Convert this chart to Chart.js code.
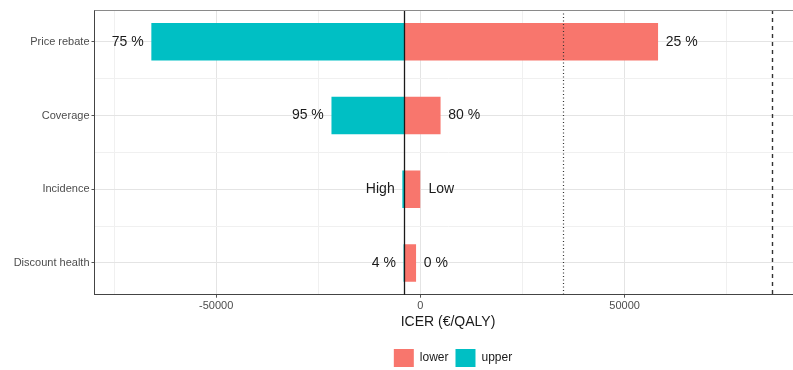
<!DOCTYPE html>
<html>
<head>
<meta charset="utf-8">
<script src="https://cdn.jsdelivr.net/npm/chart.js@4.4.1/dist/chart.umd.min.js"></script>
<style>
  html, body { margin: 0; padding: 0; background: #fff; overflow: hidden; }
  #wrap { width: 906px; height: 377px; }
</style>
</head>
<body>
<div id="wrap"><canvas id="tornado" width="906" height="377"></canvas></div>
<script>
// one-way sensitivity analysis, ICER in €/QALY
const parameters = ['Price rebate', 'Coverage', 'Incidence', 'Discount health'];
const baseIcer = -3950;
const lowerIcer = [58100, 4850, 0, -1150];
const upperIcer = [-65800, -21700, -4350, -4050];
const lowerLabels = ['25 %', '80 %', 'Low', '0 %'];
const upperLabels = ['75 %', '95 %', 'High', '4 %'];
const wtpLow = 35000;
const wtpHigh = 86000;
const xGridValues = [-75000, -50000, -25000, 0, 25000, 50000, 75000];
const xTickLabels = [-50000, 0, 50000];

const FONT = "'Liberation Sans', Arial, sans-serif";

const toBars = vals => vals.map((v, i) => ({ y: i, x: [baseIcer, v] }));
const tickVal = c => (c.tick ? c.tick.value : NaN);
// gridlines on each parameter and halfway between neighbours
const yGridValues = parameters.flatMap((p, i) => (i < parameters.length - 1 ? [i, i + 0.5] : [i]));

// reference lines: base case (solid) and the two thresholds
const refLines = {
  id: 'refLines',
  afterDatasetsDraw(chart) {
    const { ctx, chartArea: a, scales: { x } } = chart;
    const vline = (val, dash, width, color) => {
      const px = Math.round(x.getPixelForValue(val)) + 0.5;
      ctx.save();
      ctx.strokeStyle = color;
      ctx.lineWidth = width;
      ctx.setLineDash(dash);
      ctx.beginPath();
      ctx.moveTo(px, a.top);
      ctx.lineTo(px, a.bottom);
      ctx.stroke();
      ctx.restore();
    };
    vline(wtpLow, [1, 2.5], 1.2, '#333');
    vline(wtpHigh, [4, 4], 1.4, '#333');
    vline(baseIcer, [], 1.3, '#1a1a1a');
    // top edge of the panel
    ctx.save();
    ctx.strokeStyle = '#8a8a8a';
    ctx.lineWidth = 1;
    ctx.beginPath();
    ctx.moveTo(a.left, Math.round(a.top) + 0.5);
    ctx.lineTo(a.right, Math.round(a.top) + 0.5);
    ctx.stroke();
    ctx.restore();
  }
};

// value labels at the outer end of each bar
const barLabels = {
  id: 'barLabels',
  afterDraw(chart) {
    const { ctx, scales: { x, y } } = chart;
    const gap = 8;
    ctx.save();
    ctx.font = '14px ' + FONT;
    ctx.fillStyle = '#1a1a1a';
    ctx.textBaseline = 'middle';
    parameters.forEach((p, i) => {
      const py = y.getPixelForValue(i);
      const lo = lowerIcer[i], up = upperIcer[i];
      ctx.textAlign = lo >= baseIcer ? 'left' : 'right';
      ctx.fillText(lowerLabels[i], x.getPixelForValue(lo) + (lo >= baseIcer ? gap : -gap), py);
      ctx.textAlign = up >= baseIcer ? 'left' : 'right';
      ctx.fillText(upperLabels[i], x.getPixelForValue(up) + (up >= baseIcer ? gap : -gap), py);
    });
    ctx.restore();
  }
};

new Chart(document.getElementById('tornado'), {
  type: 'bar',
  data: {
    datasets: [
      { label: 'lower', data: toBars(lowerIcer), backgroundColor: '#F8766D', borderWidth: 0 },
      { label: 'upper', data: toBars(upperIcer), backgroundColor: '#00BFC4', borderWidth: 0 }
    ]
  },
  options: {
    indexAxis: 'y',
    responsive: false,
    animation: false,
    grouped: false,
    barPercentage: 1,
    categoryPercentage: 1,
    layout: { padding: { top: 10, right: 0, left: 0, bottom: 0 } },
    plugins: {
      tooltip: { enabled: false },
      legend: {
        position: 'bottom',
        labels: {
          boxWidth: 20,
          boxHeight: 18,
          padding: 7,
          color: '#1a1a1a',
          font: { family: FONT, size: 12 }
        }
      }
    },
    scales: {
      x: {
        type: 'linear',
        min: -79800,
        max: 93300,
        afterBuildTicks: s => { s.ticks = xGridValues.map(v => ({ value: v })); },
        afterFit: s => { s.height = 47.3; },
        border: { color: '#444', width: 1 },
        grid: {
          color: c => (tickVal(c) % 50000 === 0 ? '#e4e4e4' : '#f0f0f0'),
          tickColor: c => xTickLabels.includes(tickVal(c)) ? '#555' : 'transparent',
          tickLength: 3
        },
        ticks: {
          autoSkip: false,
          maxRotation: 0,
          padding: 2,
          color: '#4d4d4d',
          font: { family: FONT, size: 11 },
          callback: v => xTickLabels.includes(v) ? String(v) : ''
        },
        title: {
          display: true,
          text: 'ICER (€/QALY)',
          color: '#1a1a1a',
          font: { family: FONT, size: 14 },
          padding: { top: 0, bottom: 11 }
        }
      },
      y: {
        type: 'linear',
        reverse: true,
        offset: false,
        min: -0.43,
        max: 3.43,
        afterBuildTicks: s => { s.ticks = yGridValues.map(v => ({ value: v })); },
        afterFit: s => { s.width = 94.5; },
        border: { color: '#444', width: 1 },
        grid: {
          offset: false,
          color: c => (Number.isInteger(tickVal(c)) ? '#e4e4e4' : '#f0f0f0'),
          tickColor: c => Number.isInteger(tickVal(c)) ? '#555' : 'transparent',
          tickLength: 3
        },
        ticks: {
          autoSkip: false,
          padding: 2,
          color: '#4d4d4d',
          font: { family: FONT, size: 11 },
          callback: v => Number.isInteger(v) ? parameters[v] : ''
        }
      },
      // empty right-hand box that keeps the panel's right edge inside the canvas
      yRight: {
        type: 'linear',
        position: 'right',
        display: true,
        afterFit: s => { s.width = 104.5; },
        border: { display: false },
        grid: { display: false },
        ticks: { display: false }
      }
    }
  },
  plugins: [refLines, barLabels]
});
</script>
</body>
</html>
